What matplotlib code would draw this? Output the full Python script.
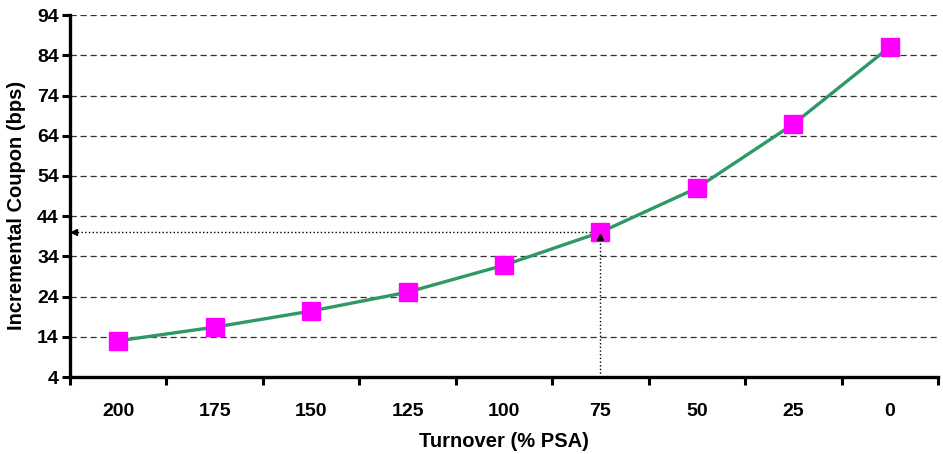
import matplotlib
matplotlib.use("Agg")
import matplotlib.pyplot as plt

# --- Data ---
turnover = ["200", "175", "150", "125", "100", "75", "50", "25", "0"]
coupon   = [13.0, 16.4, 20.4, 25.1, 31.8, 40.0, 51.0, 66.9, 86.1]
yticks   = [4, 14, 24, 34, 44, 54, 64, 74, 84, 94]
pick     = 5  # 75% PSA reference point

plt.rcParams['font.family'] = ['Liberation Sans', 'DejaVu Sans']
plt.rcParams['font.weight'] = 'bold'

fig = plt.figure(figsize=(9.43, 4.54), dpi=100)
ax = fig.add_axes([0.0742, 0.1696, 0.9205, 0.797])

x = list(range(len(turnover)))
ax.plot(x, coupon, color='#2E9966', lw=2.4, zorder=3)
ax.plot(x, coupon, ls='none', marker='s', ms=12.5, color='#FF00FF',
        mec='#FF00FF', zorder=4)

# reference arrows at 75% PSA
yv = coupon[pick]
ax.plot([-0.5, pick], [yv, yv], ls=':', color='black', lw=1, zorder=2)
ax.plot([-0.46], [yv], marker='<', ms=4, color='black', zorder=5)
ax.plot([pick, pick], [4, yv], ls=':', color='black', lw=1, zorder=2)
ax.plot([pick], [yv - 1.3], marker='^', ms=4, color='black', zorder=5)

# --- Axes ---
ax.set_xlim(-0.5, len(turnover) - 0.5)
ax.set_ylim(4, 94)
ax.set_yticks(yticks)
ax.set_xticks([i - 0.5 for i in range(len(turnover) + 1)])
ax.set_xticklabels([])
ax.set_xticks(x, minor=True)
ax.set_xticklabels(turnover, minor=True, fontsize=14, fontweight='bold')
ax.tick_params(axis='x', which='major', length=6, width=2.2, direction='out')
ax.tick_params(axis='x', which='minor', length=0, pad=19)
ax.tick_params(axis='y', length=6, width=2.2, direction='out', labelsize=14, pad=2)
for lbl in ax.get_yticklabels():
    lbl.set_fontweight('bold')

ax.yaxis.grid(True, ls=(0, (5, 3)), color='#333333', lw=0.9)
ax.set_axisbelow(True)
for s in ['top', 'right']:
    ax.spines[s].set_visible(False)
for s in ['left', 'bottom']:
    ax.spines[s].set_linewidth(2.4)

ax.set_xlabel("Turnover (% PSA)", fontsize=14.5, fontweight='bold', labelpad=8)
ax.set_ylabel("Incremental Coupon (bps)", fontsize=14.5, fontweight='bold')
ax.yaxis.set_label_coords(-0.051, 0.475)

fig.savefig("out.png", dpi=100)
